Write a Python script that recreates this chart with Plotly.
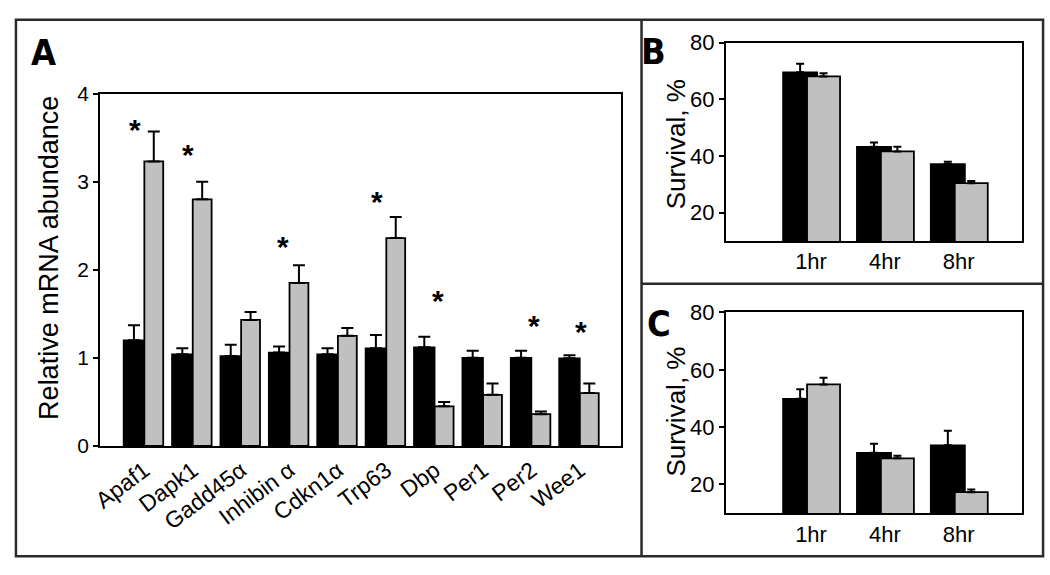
import plotly.graph_objects as go

W, H = 1050, 575

# ---------------- Panel A data ----------------
genes = ["Apaf1", "Dapk1", "Gadd45α", "Inhibin α", "Cdkn1α", "Trp63", "Dbp", "Per1", "Per2", "Wee1"]
a_black = [1.20, 1.04, 1.02, 1.06, 1.04, 1.11, 1.12, 1.00, 1.00, 0.995]
a_black_err = [0.17, 0.07, 0.13, 0.07, 0.07, 0.15, 0.12, 0.08, 0.08, 0.035]
a_gray = [3.23, 2.80, 1.43, 1.85, 1.25, 2.36, 0.45, 0.58, 0.36, 0.60]
a_gray_err = [0.34, 0.20, 0.09, 0.20, 0.09, 0.24, 0.05, 0.13, 0.03, 0.11]
# significance stars: gene index, offset from category, height
star_idx = [0, 1, 3, 5, 6, 8, 9]
star_dx = [-0.20, -0.09, -0.13, -0.20, 0.07, 0.06, 0.02]
star_y = [3.63, 3.34, 2.30, 2.81, 1.69, 1.40, 1.33]
a_yticks = [0, 1, 2, 3, 4]

# ---------------- Panels B / C data ----------------
times = ["1hr", "4hr", "8hr"]
b_black = [69.6, 43.3, 37.2]
b_black_err = [3.0, 1.5, 0.8]
b_gray = [68.1, 41.6, 30.4]
b_gray_err = [1.1, 1.7, 0.8]
c_black = [49.9, 31.1, 33.7]
c_black_err = [3.3, 3.1, 5.0]
c_gray = [54.9, 29.1, 17.3]
c_gray_err = [2.3, 0.9, 0.9]
bc_yticks = [20, 40, 60, 80]

FONT = "Liberation Sans"
LETTER_FONT = "DejaVu Sans Condensed"
GRAY = "#c0c0c0"


def px_x(p):
    return p / W


def px_y(p):
    return 1 - p / H


fig = go.Figure()


def add_bars(xaxis, yaxis, xs, black, berr, gray, gerr, boff, bw, goff, gw, cap):
    fig.add_trace(go.Bar(
        x=xs, y=black, xaxis=xaxis, yaxis=yaxis, offset=boff, width=bw,
        marker=dict(color="black", line=dict(color="black", width=1.5)),
        error_y=dict(type="data", symmetric=False, array=berr, arrayminus=[0] * len(berr),
                     color="black", thickness=2, width=cap),
        showlegend=False, hoverinfo="skip"))
    fig.add_trace(go.Bar(
        x=xs, y=gray, xaxis=xaxis, yaxis=yaxis, offset=goff, width=gw,
        marker=dict(color=GRAY, line=dict(color="black", width=1.8)),
        error_y=dict(type="data", symmetric=False, array=gerr, arrayminus=[0] * len(gerr),
                     color="black", thickness=2, width=cap),
        showlegend=False, hoverinfo="skip"))


xa = list(range(len(genes)))
add_bars("x", "y", xa, a_black, a_black_err, a_gray, a_gray_err, -0.43, 0.43, 0.0, 0.39, 6)
xt = list(range(len(times)))
add_bars("x2", "y2", xt, b_black, b_black_err, b_gray, b_gray_err, -0.38, 0.465, -0.054, 0.447, 4)
add_bars("x3", "y3", xt, c_black, c_black_err, c_gray, c_gray_err, -0.38, 0.465, -0.054, 0.447, 4)

axis_common = dict(showline=True, linecolor="black", linewidth=2, mirror=True,
                   showgrid=False, zeroline=False)

fig.update_layout(
    autosize=True, margin=dict(l=0, r=0, t=0, b=0),
    paper_bgcolor="white", plot_bgcolor="white", barmode="overlay",
    font=dict(family=FONT, color="black"),
    xaxis=dict(domain=[px_x(91.8), px_x(617)], range=[-0.916, 9.844], tickvals=xa, ticktext=genes,
               tickangle=-37, ticks="", anchor="y", tickfont=dict(family=FONT, size=23, color="black"),
               **axis_common),
    yaxis=dict(domain=[px_y(452), px_y(85)], range=[0, 4], tickvals=a_yticks, ticks="outside",
               ticklen=5, tickwidth=2, tickcolor="black", anchor="x",
               tickfont=dict(family=FONT, size=21, color="black"), **axis_common),
    xaxis2=dict(domain=[px_x(723), px_x(1022)], range=[-1.154, 2.86], tickvals=xt, ticktext=times,
                ticks="", anchor="y2", tickfont=dict(family=FONT, size=22, color="black"), **axis_common),
    yaxis2=dict(domain=[px_y(238.5), px_y(32)], range=[10, 80], tickvals=bc_yticks, ticks="outside",
                ticklen=5, tickwidth=2, tickcolor="black", anchor="x2",
                tickfont=dict(family=FONT, size=22, color="black"), **axis_common),
    xaxis3=dict(domain=[px_x(723), px_x(1022)], range=[-1.154, 2.86], tickvals=xt, ticktext=times,
                ticks="", anchor="y3", tickfont=dict(family=FONT, size=22, color="black"), **axis_common),
    yaxis3=dict(domain=[px_y(522), px_y(313)], range=[10, 80], tickvals=bc_yticks, ticks="outside",
                ticklen=5, tickwidth=2, tickcolor="black", anchor="x3",
                tickfont=dict(family=FONT, size=22, color="black"), **axis_common),
)

annotations = []
# stars
for i, dx, yv in zip(star_idx, star_dx, star_y):
    annotations.append(dict(x=i + dx, y=yv, xref="x", yref="y", text="*", showarrow=False,
                            font=dict(family=FONT, size=30, color="black", weight="bold"),
                            xanchor="center", yanchor="middle", yshift=-3))
# axis titles
annotations.append(dict(x=px_x(41), y=px_y(256.5), xref="paper", yref="paper", text="Relative mRNA abundance",
                        textangle=-90, showarrow=False, font=dict(family=FONT, size=27, color="black"),
                        xanchor="center", yanchor="middle"))
for yc in (137.5, 416):
    annotations.append(dict(x=px_x(673), y=px_y(yc), xref="paper", yref="paper", text="Survival, %",
                            textangle=-90, showarrow=False, font=dict(family=FONT, size=26, color="black"),
                            xanchor="center", yanchor="middle"))
# panel letters
for letter, cx, cy in (("A", 35, 42), ("B", 650, 41), ("C", 656, 324)):
    annotations.append(dict(x=px_x(cx), y=px_y(cy), xref="paper", yref="paper", text=letter,
                            showarrow=False, font=dict(family=LETTER_FONT, size=36, color="black", weight="bold"),
                            xanchor="center", yanchor="middle"))
fig.update_layout(annotations=annotations)

# frame borders
border = dict(color="#2a2a2a", width=2.5)
fig.add_shape(type="rect", xref="paper", yref="paper", x0=px_x(7), x1=px_x(1043), y0=px_y(567), y1=px_y(8),
              line=border)
fig.add_shape(type="line", xref="paper", yref="paper", x0=px_x(638), x1=px_x(638), y0=px_y(567), y1=px_y(8),
              line=border)
fig.add_shape(type="line", xref="paper", yref="paper", x0=px_x(638), x1=px_x(1043), y0=px_y(283), y1=px_y(283),
              line=border)

fig.write_html("out.html", config={"displayModeBar": False, "responsive": True},
               default_width="100vw", default_height="100vh",
               post_script=("document.documentElement.style.margin='0';document.body.style.margin='0';"
                            "document.body.style.overflow='hidden';"
                            "var gd=document.getElementById('{plot_id}');Plotly.Plots.resize(gd);"))
